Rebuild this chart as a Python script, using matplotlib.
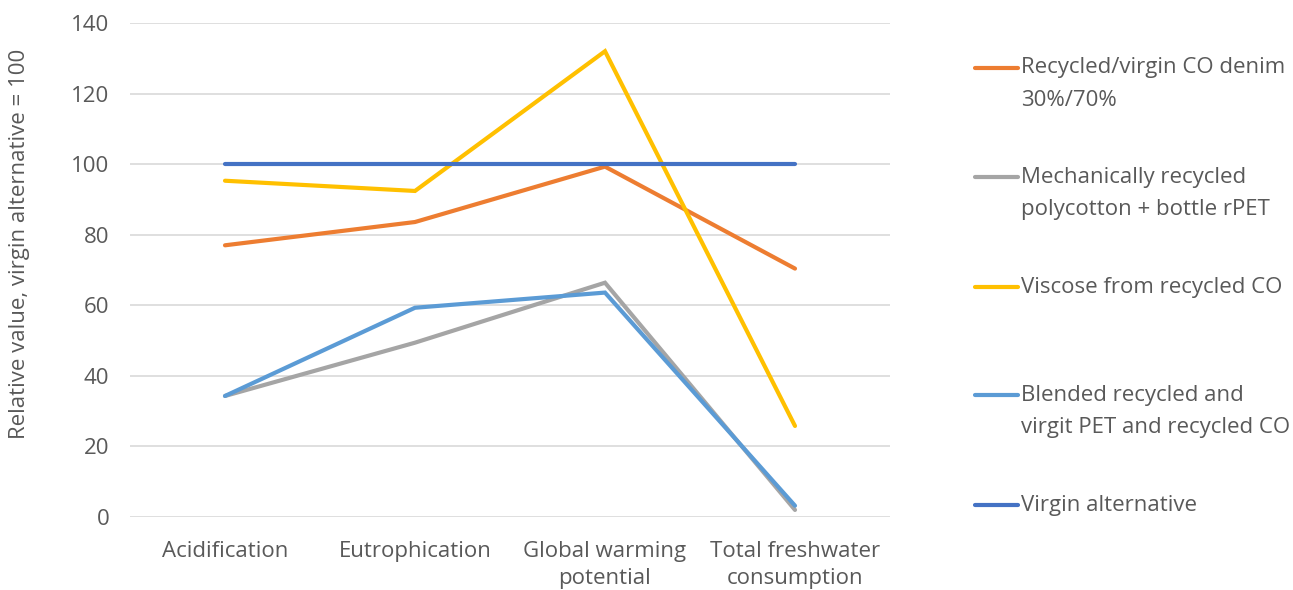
import matplotlib
matplotlib.use("Agg")
import matplotlib.pyplot as plt
from matplotlib.lines import Line2D

categories = ["Acidification", "Eutrophication", "Global warming\npotential", "Total freshwater\nconsumption"]
series_names = [
    "Recycled/virgin CO denim\n30%/70%",
    "Mechanically recycled\npolycotton + bottle rPET",
    "Viscose from recycled CO",
    "Blended recycled and\nvirgit PET and recycled CO",
    "Virgin alternative",
]
denim = [77.0, 83.6, 99.3, 70.4]
mech = [34.3, 49.4, 66.4, 2.0]
viscose = [95.3, 92.4, 132.0, 25.8]
blended = [34.3, 59.3, 63.6, 3.2]
virgin = [100, 100, 100, 100]
yticks = [0, 20, 40, 60, 80, 100, 120, 140]

colors = ["#ED7D31", "#A5A5A5", "#FFC000", "#5B9BD5", "#4472C4"]
values = [denim, mech, viscose, blended, virgin]

W, H = 1293, 590
plt.rcParams['font.family'] = ['Open Sans', 'DejaVu Sans']
fig = plt.figure(figsize=(W / 100, H / 100), dpi=100)
ax = fig.add_axes([130 / W, 1 - 517 / H, (890 - 130) / W, (517 - 23) / H])

x = list(range(len(categories)))
for vals, c in zip(values, colors):
    ax.plot(x, vals, color=c, lw=3.0, solid_capstyle='round', solid_joinstyle='miter', zorder=3)

ax.set_xlim(-0.5, 3.5)
ax.set_ylim(0, 140)
ax.set_yticks(yticks)
ax.set_xticks(x)
ax.set_xticklabels(categories, linespacing=1.4)
ax.grid(axis='y', color='#D9D9D9', lw=1.2, zorder=0)
for s in ax.spines.values():
    s.set_visible(False)
ax.tick_params(axis='both', length=0, labelsize=16, colors='#595959')
ax.tick_params(axis='x', pad=17)
ax.tick_params(axis='y', pad=15)

fig.text(20 / W, 1 - 244 / H, "Relative value, virgin alternative = 100", rotation=90,
         fontsize=16, color='#595959', ha='center', va='center')

# legend drawn manually
leg_y = [68, 177, 287, 395, 505]
for name, c, y in zip(series_names, colors, leg_y):
    fig.add_artist(Line2D([975 / W, 1018 / W], [1 - y / H, 1 - y / H], color=c, lw=3.0,
                          solid_capstyle='round'))
    for i, line in enumerate(name.split("\n")):
        fig.text(1021 / W, 1 - (y + 32 * i) / H, line, fontsize=16, color='#595959',
                 va='center', ha='left')

fig.savefig("out.png", dpi=100, facecolor='white')
